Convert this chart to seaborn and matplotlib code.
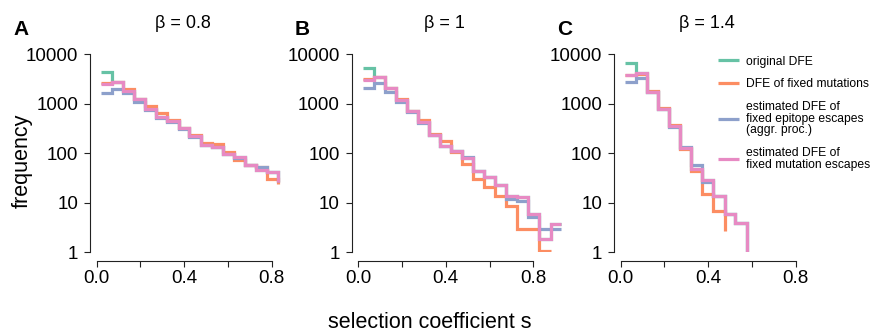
import matplotlib
matplotlib.use('Agg')
import matplotlib.pyplot as plt
import seaborn as sns

# bin positions of the selection coefficient s (left edges, shared by all panels)
s_bins = [0.020, 0.071, 0.121, 0.172, 0.222, 0.273, 0.323, 0.374, 0.424, 0.475,
          0.525, 0.576, 0.626, 0.677, 0.727, 0.778, 0.828, 0.879, 0.929]

betas = ['0.8', '1', '1.4']
panel_letters = ['A', 'B', 'C']

series_names = ['original DFE',
                'DFE of fixed mutations',
                'estimated DFE of\nfixed epitope escapes\n(aggr. proc.)',
                'estimated DFE of\nfixed mutation escapes']

# beta = 0.8
original_a = [4370, 2790, 1830, 1225, 805, 540, 445, 320, 221, 145, 134, 99, 84, 57, 47, 43, 26]
fixed_a = [2600, 2790, 1970, 1260, 890, 640, 480, 330, 230, 165, 157, 106, 74, 57, 53, 31, 24]
epitope_a = [1620, 1950, 1620, 1090, 745, 520, 430, 310, 215, 145, 134, 96, 82, 57, 53, 43, 26]
mutation_a = [2470, 2790, 1830, 1225, 805, 540, 445, 320, 221, 145, 134, 99, 84, 57, 47, 43, 26]

# beta = 1
original_b = [5200, 3420, 2050, 1186, 720, 430, 240, 140, 110, 80, 44, 33, 22.5, 14.1, 13, 6.0, 1.87, 3.76, 3.76]
fixed_b = [3100, 3420, 2100, 1230, 730, 465, 250, 175, 108, 62, 30.8, 20.7, 14.1, 8.8, 3.0, 3.0, 1.08, 1.08]
epitope_b = [2050, 2580, 1750, 1100, 690, 420, 235, 140, 110, 84, 44, 33, 22.5, 12.1, 11.1, 5.1, 3.0, 3.0, 3.0]
mutation_b = [3020, 3420, 2050, 1186, 720, 430, 240, 140, 110, 80, 44, 33, 22.5, 14.1, 13, 6.0, 1.87, 3.76, 3.76]

# beta = 1.4
original_c = [6560, 4120, 1746, 805, 352, 128, 49, 28.4, 14, 6.0, 4.0, 1]
fixed_c = [3800, 4000, 1850, 840, 370, 122, 45, 15.2, 7, 2.75]
epitope_c = [2786, 3270, 1700, 780, 345, 135, 57, 26, 14, 6.0, 4.0, 1]
mutation_c = [3800, 4120, 1746, 805, 352, 128, 49, 28.4, 14, 6.0, 4.0, 1]

panels = [[original_a, fixed_a, epitope_a, mutation_a],
          [original_b, fixed_b, epitope_b, mutation_b],
          [original_c, fixed_c, epitope_c, mutation_c]]

y_ticks = [1, 10, 100, 1000, 10000]
y_tick_labels = ['1', '10', '100', '1000', '10000']
x_ticks = [0.0, 0.2, 0.4, 0.6, 0.8]
x_tick_labels = ['0.0', '', '0.4', '', '0.8']

sns.set_theme(style='ticks')
plt.rcParams['font.family'] = ['Liberation Sans', 'DejaVu Sans']
plt.rcParams['text.color'] = 'black'
plt.rcParams['xtick.color'] = 'black'
plt.rcParams['ytick.color'] = 'black'
colors = sns.color_palette('Set2', 4)

fig = plt.figure(figsize=(8.73, 3.31), dpi=100)
lefts = [0.1108, 0.4104, 0.7109]
axes = [fig.add_axes([l, 0.2372, 0.238, 0.5988]) for l in lefts]

for ax, series, beta in zip(axes, panels, betas):
    ax.set_yscale('log')
    for vals, color, name in zip(series, colors, series_names):
        sns.lineplot(x=s_bins[:len(vals)], y=vals, ax=ax, color=color, linewidth=2.3,
                     drawstyle='steps-post', solid_capstyle='butt', solid_joinstyle='miter',
                     label=name, legend=False)
    ax.set_xlim(0, 0.95)
    ax.set_ylim(1, 10000)
    ax.set_xticks(x_ticks)
    ax.set_yticks(y_ticks)
    ax.minorticks_off()
    sns.despine(ax=ax, offset={'left': 4.8, 'bottom': 5.8}, trim=True)
    ax.set_xticklabels(x_tick_labels)
    ax.set_yticklabels(y_tick_labels)
    ax.tick_params(labelsize=13.5, length=4.5, width=0.8, color='#222222')
    ax.tick_params(axis='x', pad=2)
    ax.tick_params(axis='y', pad=4)
    for sp in ax.spines.values():
        sp.set_linewidth(0.8)
        sp.set_color('#222222')
    ax.set_xlabel('')
    ax.set_ylabel('')
    ax.set_title(f'β = {beta}', x=0.417, pad=18.7, fontsize=13)

for x, letter in zip([0.0149, 0.338, 0.638], panel_letters):
    fig.text(x, 0.894, letter, fontsize=15, fontweight='bold', va='baseline')

fig.text(430 / 873, 1 - 322 / 331, 'selection coefficient s', fontsize=15.5, ha='center', va='center')
fig.text(22 / 873, 1 - 161 / 331, 'frequency', fontsize=15.5, ha='center', va='center', rotation=90)

handles = axes[2].get_lines()[:4]
leg = fig.legend(handles, series_names, loc='upper left', bbox_to_anchor=(0.8225, 0.832),
                 frameon=False, fontsize=8.7, handlelength=1.75, handletextpad=0.6,
                 labelspacing=0.9, borderpad=0, borderaxespad=0)
for t in leg.get_texts():
    t.set_linespacing(0.95)

fig.savefig('out.png', dpi=100)
